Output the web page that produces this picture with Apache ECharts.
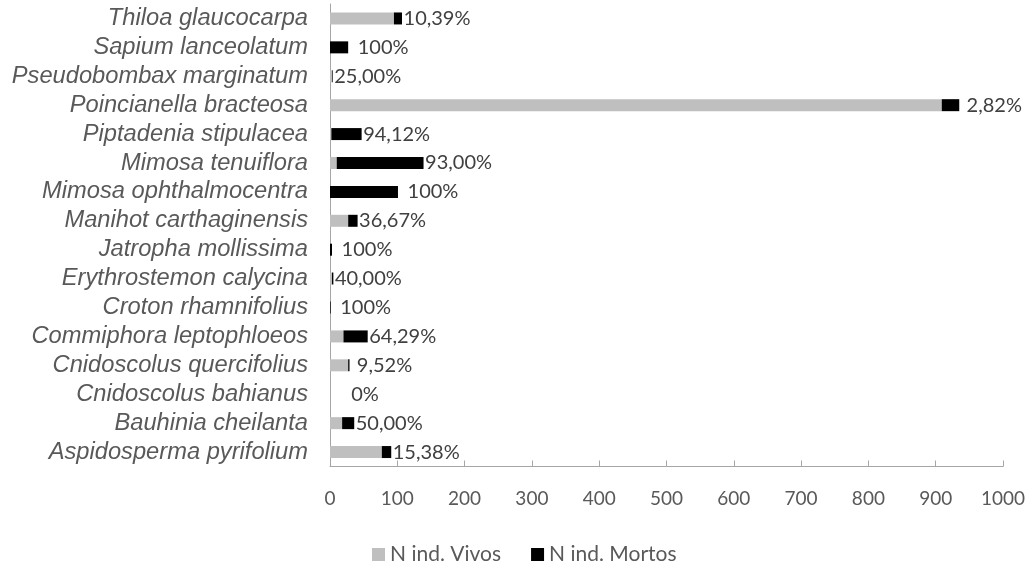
<!DOCTYPE html>
<html>
<head>
<meta charset="utf-8">
<script src="https://cdn.jsdelivr.net/npm/echarts@6/dist/echarts.min.js"></script>
<style>
  html, body { margin: 0; padding: 0; background: #fff; }
  #chart { width: 1032px; height: 562px; }
</style>
</head>
<body>
<div id="chart"></div>
<script>
// Species, bottom row first
const species = [
  'Aspidosperma pyrifolium',
  'Bauhinia cheilanta',
  'Cnidoscolus bahianus',
  'Cnidoscolus quercifolius',
  'Commiphora leptophloeos',
  'Croton rhamnifolius',
  'Erythrostemon calycina',
  'Jatropha mollissima',
  'Manihot carthaginensis',
  'Mimosa ophthalmocentra',
  'Mimosa tenuiflora',
  'Piptadenia stipulacea',
  'Poincianella bracteosa',
  'Pseudobombax marginatum',
  'Sapium lanceolatum',
  'Thiloa glaucocarpa'
];

// Number of living individuals
const vivos = [77, 18, 0, 27, 20, 0, 3, 0, 27, 0, 10, 2, 909, 3, 0, 95];

// Number of dead individuals
const mortos = [14, 18, 0, 2, 36, 1, 2, 3, 14, 101, 129, 45, 26, 1, 27, 12];

// Mortality labels shown after each bar
const mortalidade = [
  '15,38%', '50,00%', '0%', '9,52%', '64,29%', '100%', '40,00%', '100%',
  '36,67%', '100%', '93,00%', '94,12%', '2,82%', '25,00%', '100%', '10,39%'
];

// X axis ticks
const xMin = 0, xMax = 1000, xStep = 100;

const chart = echarts.init(document.getElementById('chart'), null, { renderer: 'canvas' });

const axisGrey = '#a6a6a6';
const textGrey = '#595959';

chart.setOption({
  animation: false,
  backgroundColor: '#ffffff',
  grid: { left: 330, right: 29, top: 4, bottom: 95.5, containLabel: false },
  legend: {
    left: 367,
    top: 539,
    icon: 'rect',
    itemWidth: 13,
    itemHeight: 13,
    itemGap: 30,
    textStyle: { fontFamily: 'Lato', fontSize: 21, color: textGrey },
    data: ['N ind. Vivos', 'N ind. Mortos']
  },
  xAxis: {
    type: 'value',
    min: xMin,
    max: xMax,
    interval: xStep,
    axisLine: { show: true, lineStyle: { color: axisGrey, width: 1 } },
    axisTick: { show: true, inside: true, length: 6, lineStyle: { color: axisGrey } },
    splitLine: { show: false },
    axisLabel: {
      color: textGrey,
      fontFamily: 'Lato',
      fontSize: 19,
      margin: 23,
      formatter: v => String(v)
    }
  },
  yAxis: {
    type: 'category',
    data: species,
    axisLine: { show: true, lineStyle: { color: axisGrey, width: 1 } },
    axisTick: { show: false },
    axisLabel: {
      interval: 0,
      color: textGrey,
      fontFamily: 'Liberation Sans',
      fontStyle: 'italic',
      fontSize: 23.7,
      margin: 22
    }
  },
  series: [
    {
      name: 'N ind. Vivos',
      type: 'bar',
      stack: 'total',
      data: vivos,
      barWidth: 12,
      itemStyle: { color: '#bfbfbf' }
    },
    {
      name: 'N ind. Mortos',
      type: 'bar',
      stack: 'total',
      data: mortos,
      barWidth: 12,
      itemStyle: { color: '#000000' },
      label: {
        show: true,
        position: 'right',
        distance: 35,
        align: 'center',
        color: '#404040',
        fontFamily: 'Lato',
        fontSize: 20,
        formatter: p => mortalidade[p.dataIndex]
      }
    }
  ]
});
</script>
</body>
</html>
